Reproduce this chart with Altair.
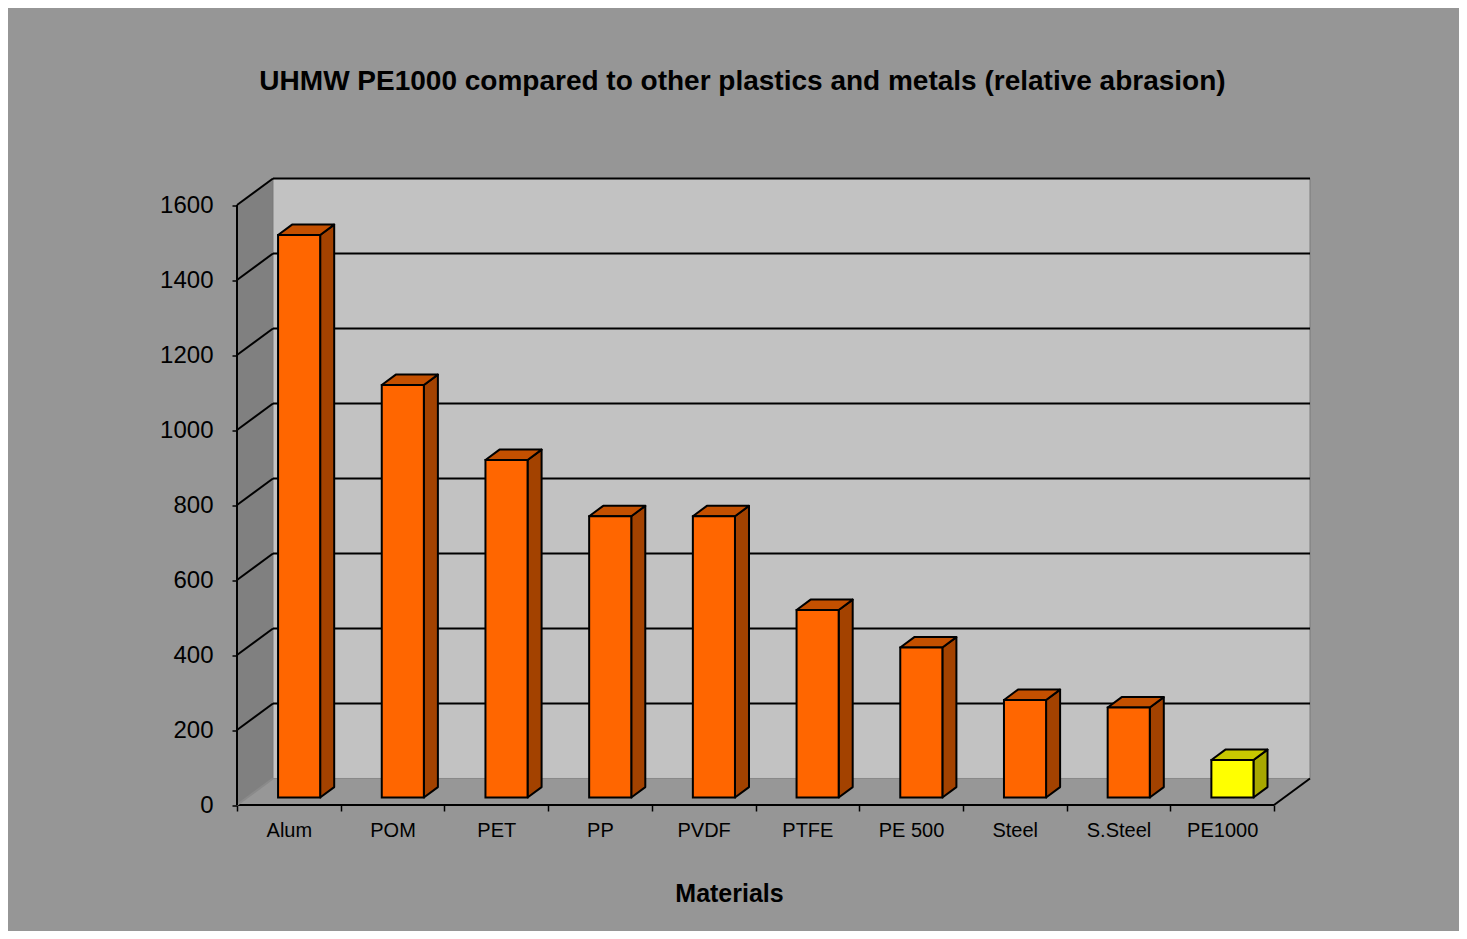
import json
import altair as alt
import pandas as pd

# ---- data ----
materials = ["Alum", "POM", "PET", "PP", "PVDF", "PTFE", "PE 500", "Steel", "S.Steel", "PE1000"]
abrasion = [1500, 1100, 900, 750, 750, 500, 400, 260, 240, 100]
y_ticks = [0, 200, 400, 600, 800, 1000, 1200, 1400, 1600]
HIGHLIGHT = "PE1000"

TITLE = "UHMW PE1000 compared to other plastics and metals (relative abrasion)"
X_TITLE = "Materials"

# ---- 3D look geometry (in data units) ----
N = len(materials)
YMAX = y_ticks[-1]
DEPTH_X = 0.347      # category units
DEPTH_Y = 70.7       # value units
F0, F1 = 0.285, 0.675
HALF = 0.203

W, H = 1073, 626.5
PX_PER_CAT = W / (N + DEPTH_X)

FONT = "Liberation Sans, Arial, sans-serif"
ORANGE = {"front": "#FF6600", "top": "#C45000", "side": "#A34200"}
YELLOW = {"front": "#FFFF00", "top": "#C8C800", "side": "#A8A800"}

front, side, top = [], [], []
for i, (m, v) in enumerate(zip(materials, abrasion)):
    cx = i + 0.5 + F0 * DEPTH_X
    xl, xr = cx - HALF, cx + HALF
    b0 = F0 * DEPTH_Y
    ddx = (F1 - F0) * DEPTH_X
    ddy = (F1 - F0) * DEPTH_Y
    front.append(dict(mat=m, x=xl, x2=xr, y=b0, y2=v + b0))
    side.append(dict(mat=m, x=xr, y=v + b0, y2=b0))
    side.append(dict(mat=m, x=xr + ddx, y=v + b0 + ddy, y2=b0 + ddy))
    top.append(dict(mat=m, y=v + b0, x=xl, x2=xr))
    top.append(dict(mat=m, y=v + b0 + ddy, x=xl + ddx, x2=xr + ddx))

front = pd.DataFrame(front)
side = pd.DataFrame(side)
top = pd.DataFrame(top)

xs = alt.Scale(domain=[0, N + DEPTH_X], nice=False, zero=False)
ys = alt.Scale(domain=[0, YMAX + DEPTH_Y], nice=False, zero=False)

X_AXIS = alt.Axis(
    values=list(range(N + 1)),
    labelExpr=f"{json.dumps(materials)}[datum.value] || ''",
    labelOffset=PX_PER_CAT / 2, labelAlign="center", labelFontSize=20, labelFont=FONT,
    labelColor="black", labelPadding=9, labelOverlap=False, labelBound=False, labelFlush=False,
    tickSize=6, tickColor="black", tickWidth=1.5, domain=False, grid=False,
    title=X_TITLE, titleFontSize=25, titleFont=FONT, titleFontWeight="bold", titleColor="black",
    titleX=492, titleY=96, titleAlign="center", titleBaseline="alphabetic")
Y_AXIS = alt.Axis(
    values=y_ticks, format="d", labelFontSize=24, labelFont=FONT, labelColor="black", labelPadding=19,
    tickSize=5, tickColor="black", tickWidth=1.5, domain=False, grid=False, title="")


def X(f="x"):
    return alt.X(f + ":Q", scale=xs, axis=X_AXIS)


def Y(f="y"):
    return alt.Y(f + ":Q", scale=ys, axis=Y_AXIS)


def face_color(kind):
    return alt.condition(f"datum.mat === '{HIGHLIGHT}'", alt.value(YELLOW[kind]), alt.value(ORANGE[kind]))


# walls
side_wall = alt.Chart(pd.DataFrame({"x": [0, DEPTH_X], "y": [YMAX, YMAX + DEPTH_Y], "y2": [0, DEPTH_Y]})).mark_area(
    orient="vertical", color="#808080").encode(x=X(), y=Y(), y2="y2:Q")
back_wall = alt.Chart(pd.DataFrame({"x": [DEPTH_X], "x2": [N + DEPTH_X], "y": [DEPTH_Y], "y2": [YMAX + DEPTH_Y]})).mark_rect(
    color="#C2C2C2", stroke="#7a7a7a", strokeWidth=1).encode(x=X(), x2="x2:Q", y=Y(), y2="y2:Q")
floor = alt.Chart(pd.DataFrame({"y": [0, DEPTH_Y], "x": [0, DEPTH_X], "x2": [N, N + DEPTH_X]})).mark_area(
    orient="horizontal", color="#979797").encode(y=Y(), x=X(), x2="x2:Q")

grid_vals = pd.DataFrame({"v": y_ticks[1:]})
back_grid = alt.Chart(grid_vals).transform_calculate(
    yy=f"datum.v + {DEPTH_Y}", x0=f"{DEPTH_X}", x1=f"{N + DEPTH_X}").mark_rule(
    color="black", strokeWidth=2).encode(x=X("x0"), x2="x1:Q", y=Y("yy"))
side_grid = alt.Chart(grid_vals).transform_calculate(
    yy=f"datum.v + {DEPTH_Y}", x0="0", x1=f"{DEPTH_X}").mark_rule(
    color="black", strokeWidth=2).encode(x=X("x0"), x2="x1:Q", y=Y("v"), y2="yy:Q")

floor_edges = alt.Chart(pd.DataFrame({
    "x": [0, N, 0], "x2": [N, N + DEPTH_X, DEPTH_X],
    "y": [0, 0, 0], "y2": [0, DEPTH_Y, DEPTH_Y],
    "c": ["a", "a", "b"]})).mark_rule(strokeWidth=2).encode(
    x=X(), x2="x2:Q", y=Y(), y2="y2:Q",
    color=alt.Color("c:N", scale=alt.Scale(domain=["a", "b"], range=["black", "#8a8a8a"]), legend=None))

y_axis_line = alt.Chart(pd.DataFrame({"x": [0], "y": [0], "y2": [YMAX]})).mark_rule(
    color="black", strokeWidth=2).encode(x=X(), y=Y(), y2="y2:Q")

bar_front = alt.Chart(front).mark_rect(stroke="black", strokeWidth=2).encode(
    x=X(), x2="x2:Q", y=Y(), y2="y2:Q", fill=face_color("front"))
bar_side = alt.Chart(side).mark_area(orient="vertical", stroke="black", strokeWidth=2, strokeJoin="round").encode(
    x=X(), y=Y(), y2="y2:Q", detail="mat:N", fill=face_color("side"))
bar_top = alt.Chart(top).mark_area(orient="horizontal", stroke="black", strokeWidth=2, strokeJoin="round").encode(
    y=Y(), x=X(), x2="x2:Q", detail="mat:N", fill=face_color("top"))

chart = alt.layer(
    side_wall, back_wall, floor, back_grid, side_grid, floor_edges, y_axis_line,
    bar_side, bar_top, bar_front,
).properties(
    width=W, height=H,
    autosize=alt.AutoSizeParams(type="none"),
    padding={"left": 229, "top": 170.5, "right": 149, "bottom": 126},
    background="#969696",
    title=alt.TitleParams(TITLE, fontSize=28, font=FONT, fontWeight="bold", color="black",
                          anchor="middle", dx=-31, offset=60, baseline="alphabetic"),
).configure_view(stroke=None)

chart.save("out.html", embed_options={"renderer": "svg", "actions": False})
